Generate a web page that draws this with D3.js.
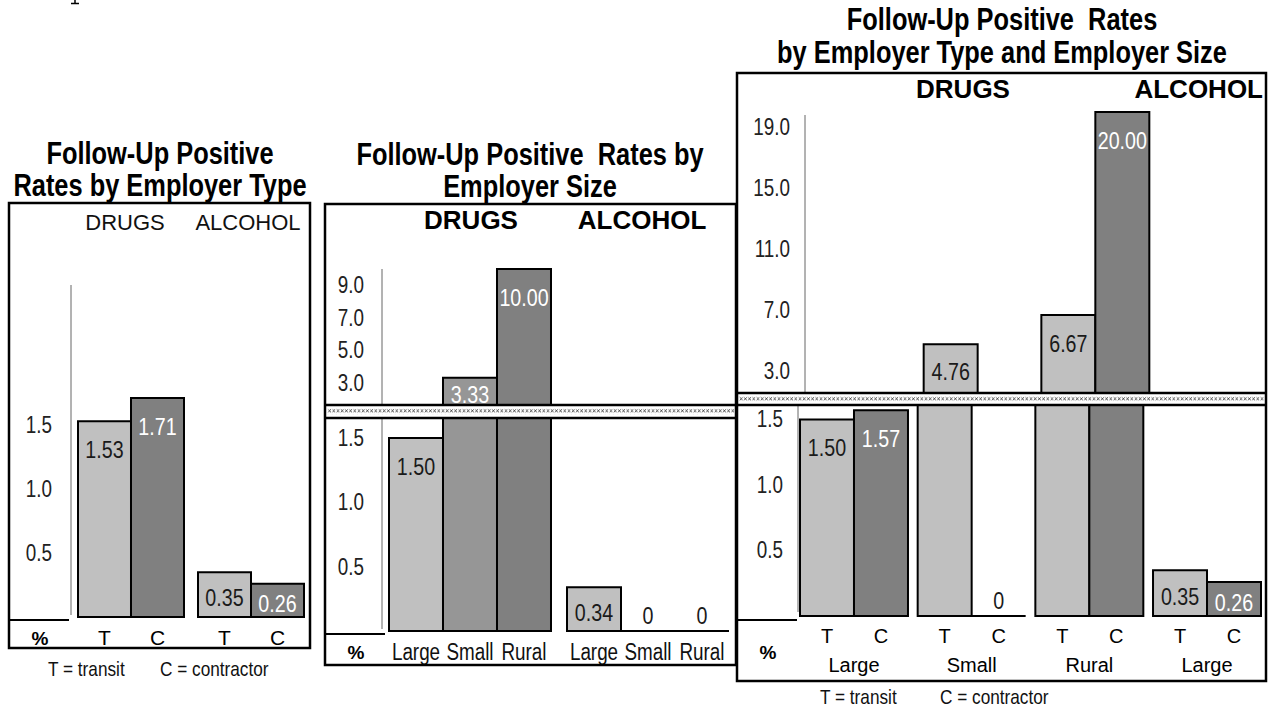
<!DOCTYPE html>
<html><head><meta charset="utf-8">
<script src="https://cdn.jsdelivr.net/npm/d3@7"></script>
<style>body{margin:0;background:#fff;} svg{display:block}</style>
</head><body>
<svg id="c" width="1268" height="709"></svg>
<script>
// ---------------- DATA ----------------
// Chart 1: by employer type
const c1Groups = ["DRUGS", "ALCOHOL"];
const c1Series = ["T", "C"];
const c1Drugs = [1.53, 1.71];
const c1Alcohol = [0.35, 0.26];
const c1Ticks = [0.5, 1.0, 1.5];

// Chart 2: by employer size
const c2Groups = ["DRUGS", "ALCOHOL"];
const c2Sizes = ["Large", "Small", "Rural"];
const c2Drugs = [1.50, 3.33, 10.00];
const c2Alcohol = [0.34, 0, 0];
const c2LowerTicks = [0.5, 1.0, 1.5];
const c2UpperTicks = [3.0, 5.0, 7.0, 9.0];

// Chart 3: by employer type and size
const c3Groups = ["Large", "Small", "Rural", "Large "];
const c3GroupLabels = ["Large", "Small", "Rural", "Large"];
const c3Series = ["T", "C"];
const c3Transit = [1.50, 4.76, 6.67, 0.35];
const c3Contractor = [1.57, 0, 20.00, 0.26];
const c3LowerTicks = [0.5, 1.0, 1.5];
const c3UpperTicks = [3.0, 7.0, 11.0, 15.0, 19.0];

const legendText = ["T = transit", "C = contractor"];

// ---------------- STYLE ----------------
const SANS = "'Liberation Sans',Arial,sans-serif";
const NARROW_SCALE = 0.82;   // emulate Arial Narrow
const LIGHT = "#c0c0c0", MID = "#969696", DARK = "#808080";
const TITLE_FS = 31, TICK_FS = 23, VALUE_FS = 24, LEGEND_FS = 21;
const svg = d3.select("#c");
const fmt1 = d3.format(".1f"), fmt2 = d3.format(".2f");

const defs = svg.append("defs");
const pat = defs.append("pattern").attr("id", "xpat").attr("patternUnits", "userSpaceOnUse")
  .attr("width", 4.2).attr("height", 6);
pat.append("path").attr("d", "M0.6,1.2L3.4,4.4M3.4,1.2L0.6,4.4").attr("stroke", "#333").attr("stroke-width", 0.8).attr("fill", "none");

// text helper; narrow = horizontally condensed (Arial Narrow look)
function txt(x, y, s, o = {}) {
  const narrow = o.narrow !== false;
  const g = svg.append("g").attr("transform", `translate(${x},${y})` + (narrow ? ` scale(${NARROW_SCALE},1)` : ""));
  return g.append("text").attr("x", 0).attr("y", 0).text(s)
    .attr("font-family", SANS).attr("font-size", o.fs || 20)
    .attr("font-weight", o.fw || "normal").attr("fill", o.fill || "#111")
    .attr("text-anchor", o.anchor || "middle")
    .attr("dy", o.dy || null)
    .style("white-space", "pre");
}
function box(x0, y0, x1, y1) {
  svg.append("rect").attr("x", x0).attr("y", y0).attr("width", x1 - x0).attr("height", y1 - y0)
    .attr("fill", "none").attr("stroke", "#000").attr("stroke-width", 2.5);
}
function hline(x0, x1, y, w = 2, c = "#000") {
  svg.append("line").attr("x1", x0).attr("x2", x1).attr("y1", y).attr("y2", y)
    .attr("stroke", c).attr("stroke-width", w);
}
function vline(x, y0, y1, w = 1, c = "#666") {
  svg.append("line").attr("x1", x).attr("x2", x).attr("y1", y0).attr("y2", y1)
    .attr("stroke", c).attr("stroke-width", w);
}
function axis(x, scale, ticks) {
  const g = svg.append("g").attr("transform", `translate(${x},0)`)
    .call(d3.axisLeft(scale).tickValues(ticks).tickSize(0).tickPadding(0).tickFormat(fmt1));
  g.select(".domain").remove();
  g.selectAll("text").attr("font-family", SANS).attr("font-size", TICK_FS).attr("fill", "#222")
    .attr("transform", `scale(${NARROW_SCALE},1)`);
}
function band(x0, x1, yTop, yBot) {
  svg.append("rect").attr("x", x0).attr("y", yTop).attr("width", x1 - x0).attr("height", yBot - yTop).attr("fill", "#fff");
  svg.append("rect").attr("x", x0 + 1).attr("y", (yTop + yBot) / 2 - 3).attr("width", x1 - x0 - 2).attr("height", 6)
    .attr("fill", "url(#xpat)");
  hline(x0, x1, yTop, 2.5);
  hline(x0, x1, yBot, 2.5);
}
// bar with optional broken axis
function bar(o) {
  const { x, w, v, fill, yLow, base, yUp, bandTop, bandBot, upShift = 0 } = o;
  const pathFor = (xx, top, bot) => `M${xx},${bot}V${top}H${xx + w}V${bot}Z`;
  const lowTop = yLow(v);
  const crosses = yUp && bandBot !== undefined && lowTop < bandBot;
  const t = crosses ? bandBot : lowTop;
  svg.append("path").attr("d", pathFor(x, t, base)).attr("fill", v === 0 ? "none" : fill)
    .attr("stroke", "#000").attr("stroke-width", 2);
  let top = lowTop, bottom = base, cx = x + w / 2;
  if (crosses) {
    const ut = yUp(v);
    svg.append("path").attr("d", pathFor(x + upShift, ut, bandTop)).attr("fill", fill)
      .attr("stroke", "#000").attr("stroke-width", 2);
    top = ut; bottom = bandTop; cx = x + upShift + w / 2;
  }
  const ly = v === 0 ? base - 16 : top + Math.min(28, (bottom - top) / 2 + 3);
  const white = fill !== LIGHT && v !== 0;
  return { cx, ly, label: v === 0 ? "0" : fmt2(v), white };
}
const labels = [];

// stray mark at top-left of the scanned page
svg.append("path").attr("d", "M71,3.5H79M75,0V3.5").attr("stroke", "#000").attr("stroke-width", 1.5);

// ================= CHART 1 =================
txt(160, 164, "Follow-Up Positive", { fs: TITLE_FS, fw: "bold", fill: "#000" });
txt(160, 196, "Rates by Employer Type", { fs: TITLE_FS, fw: "bold", fill: "#000" });
{
  const y = d3.scaleLinear().domain([0, 1.5]).range([617, 425]);
  const x0 = d3.scaleBand().domain(c1Groups).range([78, 304]).paddingInner(0.1167);
  const x1 = d3.scaleBand().domain(c1Series).range([0, x0.bandwidth()]);
  vline(71, 285, 615);
  axis(52, y, c1Ticks);
  const vals = { DRUGS: c1Drugs, ALCOHOL: c1Alcohol };
  c1Groups.forEach(gk => c1Series.forEach((s, i) => {
    const r = bar({ x: x0(gk) + x1(s), w: x1.bandwidth(), v: vals[gk][i], fill: i === 0 ? LIGHT : DARK, yLow: y, base: 617 });
    labels.push(r);
    txt(x0(gk) + x1(s) + x1.bandwidth() / 2, 645, s, { fs: 21, fill: "#000", narrow: false });
  }));
  box(9, 203, 310, 648);
  hline(9, 69, 620, 2);
  txt(125, 230, "DRUGS", { fs: 22, fill: "#111", narrow: false });
  txt(248, 230, "ALCOHOL", { fs: 22, fill: "#111", narrow: false });
  txt(40, 645, "%", { fs: 19, fw: "bold", fill: "#000", narrow: false });
  txt(48, 676, legendText[0], { fs: LEGEND_FS, anchor: "start" });
  txt(160, 676, legendText[1], { fs: LEGEND_FS, anchor: "start" });
}

// ================= CHART 2 =================
txt(530, 165, "Follow-Up Positive  Rates by", { fs: TITLE_FS, fw: "bold", fill: "#000" });
txt(530, 197, "Employer Size", { fs: TITLE_FS, fw: "bold", fill: "#000" });
{
  const base = 631, bandTop = 405, bandBot = 418;
  const yLow = d3.scaleLinear().domain([0, 1.5]).range([base, 438]);
  const yUp = d3.scaleLinear().domain([3, 10]).range([383, 269]);
  const x0 = d3.scaleBand().domain(c2Groups).range([389, 729]).paddingInner(0.0899);
  const x1 = d3.scaleBand().domain(c2Sizes).range([0, x0.bandwidth()]);
  vline(382, 269, bandTop);
  vline(382, bandBot, 629);
  axis(364, yUp, c2UpperTicks);
  axis(364, yLow, c2LowerTicks);
  const vals = { DRUGS: c2Drugs, ALCOHOL: c2Alcohol };
  const fills = [LIGHT, MID, DARK];
  c2Groups.forEach(gk => c2Sizes.forEach((s, i) => {
    const r = bar({ x: x0(gk) + x1(s), w: x1.bandwidth(), v: vals[gk][i], fill: gk === "DRUGS" ? fills[i] : LIGHT,
      yLow, base, yUp, bandTop, bandBot });
    labels.push(r);
    txt(x0(gk) + x1(s) + x1.bandwidth() / 2, 660, s, { fs: 23, fill: "#111" });
  }));
  band(326, 735, bandTop, bandBot);
  box(325, 204, 736, 665);
  hline(325, 385, 634, 2);
  txt(471, 229, "DRUGS", { fs: 26, fw: "bold", fill: "#000", narrow: false });
  txt(642, 229, "ALCOHOL", { fs: 26, fw: "bold", fill: "#000", narrow: false });
  txt(356, 659, "%", { fs: 19, fw: "bold", fill: "#000", narrow: false });
}

// ================= CHART 3 =================
txt(1002, 30, "Follow-Up Positive  Rates", { fs: TITLE_FS, fw: "bold", fill: "#000" });
txt(1002, 63, "by Employer Type and Employer Size", { fs: TITLE_FS, fw: "bold", fill: "#000" });
{
  const base = 616, bandTop = 393, bandBot = 405, upShift = 6;
  const yLow = d3.scaleLinear().domain([0, 1.5]).range([base, 419.5]);
  const yUp = d3.scaleLinear().domain([3, 20]).range([371, 112]);
  const x0 = d3.scaleBand().domain(c3Groups).range([800, 1261]).paddingInner(0.0824);
  const x1 = d3.scaleBand().domain(c3Series).range([0, x0.bandwidth()]);
  vline(805, 115, bandTop);
  vline(798, bandBot, 612);
  axis(790, yUp, c3UpperTicks);
  axis(783, yLow, c3LowerTicks);
  c3Groups.forEach((gk, gi) => {
    [c3Transit[gi], c3Contractor[gi]].forEach((v, i) => {
      const s = c3Series[i];
      const r = bar({ x: x0(gk) + x1(s), w: x1.bandwidth(), v, fill: i === 0 ? LIGHT : DARK,
        yLow, base, yUp, bandTop, bandBot, upShift });
      labels.push(r);
      txt(x0(gk) + x1(s) + x1.bandwidth() / 2, 643, s, { fs: 20, fill: "#000", narrow: false });
    });
    txt(x0(gk) + x0.bandwidth() / 2, 672, c3GroupLabels[gi], { fs: 20, fill: "#000", narrow: false });
  });
  band(738, 1265, bandTop, bandBot);
  box(737, 73, 1266, 681);
  hline(737, 797, 620, 2);
  txt(963, 98, "DRUGS", { fs: 26, fw: "bold", fill: "#000", narrow: false });
  txt(1263, 98, "ALCOHOL", { fs: 26, fw: "bold", fill: "#000", anchor: "end", narrow: false });
  txt(768, 659, "%", { fs: 19, fw: "bold", fill: "#000", narrow: false });
  txt(820, 704, legendText[0], { fs: LEGEND_FS, anchor: "start" });
  txt(940, 704, legendText[1], { fs: LEGEND_FS, anchor: "start" });
}

// value labels on top
labels.forEach(l => {
  txt(l.cx, l.ly, l.label, { fs: VALUE_FS, fill: l.white ? "#fff" : "#1a1a1a", dy: "0.36em" });
});
</script>
</body></html>
